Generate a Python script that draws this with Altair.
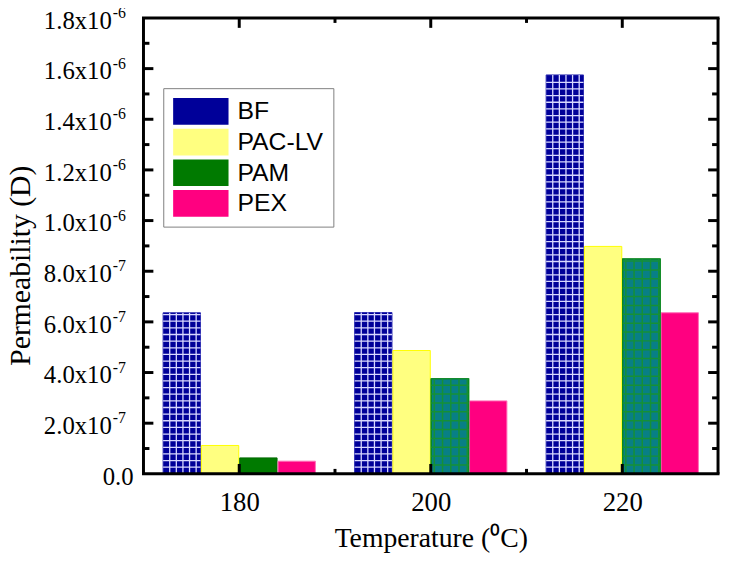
import altair as alt
import pandas as pd

# ---------------- data ----------------
temps = ["180", "200", "220"]
series = ["BF", "PAC-LV", "PAM", "PEX"]
bf = [6.36e-7, 6.37e-7, 1.575e-6]
pac_lv = [1.12e-7, 4.87e-7, 8.98e-7]
pam = [0.63e-7, 3.75e-7, 8.48e-7]
pex = [0.50e-7, 2.88e-7, 6.36e-7]

y_tick_values = [0, 2e-7, 4e-7, 6e-7, 8e-7, 1.0e-6, 1.2e-6, 1.4e-6, 1.6e-6, 1.8e-6]
y_tick_mantissa = ["0.0", "2.0", "4.0", "6.0", "8.0", "1.0", "1.2", "1.4", "1.6", "1.8"]
y_tick_exp = ["", "-7", "-7", "-7", "-7", "-6", "-6", "-6", "-6", "-6"]

fills = ["#000099", "#ffff80", "#007a00", "#ff0080"]
strokes = ["#2a2ab0", "#ffff00", "#006a00", "#ff6fb8"]

# ---------------- layout constants ----------------
W, H = 581, 461
STEP = 0.2
BAR_W = 0.195
GAP = (STEP - BAR_W) / 2

SERIF = "Liberation Serif"
SANS = "Liberation Sans"

rows = []
for gi, t in enumerate(temps):
    for si, (s, vals) in enumerate(zip(series, [bf, pac_lv, pam, pex])):
        rows.append({"temp": t, "series": s, "value": vals[gi], "gi": gi, "si": si})
df = pd.DataFrame(rows)

xs = alt.Scale(domain=[0, 3], nice=False, zero=False)
ys = alt.Scale(domain=[0, 1.8e-6], nice=False)

label_expr = "[" + ",".join(f"'{t}'" for t in temps) + "][floor(datum.value)]"
xaxis = alt.Axis(values=[i + 0.5 for i in range(len(temps))], labelExpr=label_expr,
                 ticks=False, domain=False, grid=False,
                 labelFont=SERIF, labelFontSize=27, labelColor="black", labelPadding=16,
                 title="Temperature (\u2070C)", titleFont=SERIF, titleFontSize=28,
                 titleFontWeight="normal", titleColor="black", titleY=51)
yaxis = alt.Axis(labels=False, ticks=False, domain=False, grid=False,
                 title="Permeability (D)", titleFont=SERIF, titleFontSize=30,
                 titleFontWeight="normal", titleColor="black", titleX=-109, titleY=250)

base = (alt.Chart(df)
        .transform_calculate(x0=f"datum.gi + 0.5 + (datum.si - 2) * {STEP} + {GAP}")
        .transform_calculate(x1=f"datum.x0 + {BAR_W}"))

legend = alt.Legend(title=None, orient="none", legendX=20, legendY=71,
                    symbolType="M-1,-1H3.148V1H-1Z", symbolSize=729,
                    symbolStrokeWidth=0, symbolOpacity=1,
                    labelFont=SANS, labelFontSize=25, labelColor="black",
                    labelOffset=38, labelLimit=300, rowPadding=4, padding=10,
                    strokeColor="#808080", fillColor="white")

bars = base.mark_rect(strokeWidth=1).encode(
    x=alt.X("x0:Q", scale=xs, axis=xaxis),
    x2="x1:Q",
    y=alt.Y("value:Q", scale=ys, axis=yaxis),
    y2=alt.datum(0),
    fill=alt.Fill("series:N", scale=alt.Scale(domain=series, range=fills), legend=legend),
    stroke=alt.Stroke("series:N", scale=alt.Scale(domain=series, range=strokes), legend=None),
)

# teal chequered PAM bars at 200 and 220
pam_teal = base.transform_filter("datum.si == 2 && datum.gi > 0").mark_rect(
    fill="#087f86", stroke="#0a8a20", strokeWidth=1.5).encode(
    x=alt.X("x0:Q", scale=xs, axis=xaxis), x2="x1:Q",
    y=alt.Y("value:Q", scale=ys, axis=yaxis), y2=alt.datum(0))

# ---- texture lines (decoration) ----
bf_v, bf_h, pam_v, pam_h = [], [], [], []
for gi in range(len(temps)):
    x0 = gi + 0.5 - 2 * STEP + GAP
    for k in range(1, 6):
        bf_v.append({"xv": x0 + k * 0.0345, "top": bf[gi]})
    k = 1
    while k * 0.262e-7 < bf[gi] - 0.05e-7:
        bf_h.append({"xa": x0, "xb": x0 + BAR_W, "yv": k * 0.262e-7})
        k += 1
    if gi > 0:
        px0 = gi + 0.5 + GAP
        for k in range(0, 5):
            pam_v.append({"xv": px0 + 0.016 + k * 0.043, "top": pam[gi]})
        k = 1
        while k * 0.35e-7 < pam[gi] - 0.05e-7:
            pam_h.append({"xa": px0, "xb": px0 + BAR_W, "yv": k * 0.35e-7})
            k += 1


def vlines(data, color, width):
    return alt.Chart(pd.DataFrame(data)).mark_rule(color=color, strokeWidth=width).encode(
        x=alt.X("xv:Q", scale=xs, axis=xaxis),
        y=alt.Y("top:Q", scale=ys, axis=yaxis), y2=alt.datum(0))


def hlines(data, color, width):
    return alt.Chart(pd.DataFrame(data)).mark_rule(color=color, strokeWidth=width).encode(
        x=alt.X("xa:Q", scale=xs, axis=xaxis), x2="xb:Q",
        y=alt.Y("yv:Q", scale=ys, axis=yaxis))


tex = [vlines(bf_v, "#d8d8ff", 1.3), hlines(bf_h, "#d8d8ff", 1.3),
       vlines(pam_v, "#169036", 1.5), hlines(pam_h, "#169036", 1.5)]

# ---- inward ticks ----
y_major = pd.DataFrame({"v": y_tick_values[1:-1]})
y_minor = pd.DataFrame({"v": [(a + b) / 2 for a, b in zip(y_tick_values[:-1], y_tick_values[1:])]})
x_major = pd.DataFrame({"v": [i + 0.5 for i in range(len(temps))]})
x_minor = pd.DataFrame({"v": [float(i) for i in range(1, len(temps))]})

tick_style = dict(color="black", strokeWidth=3)


def yticks(d, length):
    left = alt.Chart(d).mark_rule(**tick_style).encode(
        y=alt.Y("v:Q", scale=ys, axis=yaxis), x=alt.value(0), x2=alt.value(length))
    right = alt.Chart(d).mark_rule(**tick_style).encode(
        y=alt.Y("v:Q", scale=ys, axis=yaxis), x=alt.value(W), x2=alt.value(W - length))
    return [left, right]


def xticks(d, length):
    bottom = alt.Chart(d).mark_rule(**tick_style).encode(
        x=alt.X("v:Q", scale=xs, axis=xaxis), y=alt.value(H), y2=alt.value(H - length))
    top = alt.Chart(d).mark_rule(**tick_style).encode(
        x=alt.X("v:Q", scale=xs, axis=xaxis), y=alt.value(0), y2=alt.value(length))
    return [bottom, top]


ticks = yticks(y_major, 10) + yticks(y_minor, 6) + xticks(x_major, 10) + xticks(x_minor, 5)

# frame drawn as rules so it sits above the bars
one = y_major.head(1)
frame = [
    alt.Chart(one).mark_rule(color="black", strokeWidth=3).encode(
        x=alt.value(-1.5), x2=alt.value(W + 1.5), y=alt.value(0)),
    alt.Chart(one).mark_rule(color="black", strokeWidth=3).encode(
        x=alt.value(-1.5), x2=alt.value(W + 1.5), y=alt.value(H)),
    alt.Chart(one).mark_rule(color="black", strokeWidth=3).encode(
        x=alt.value(0), y=alt.value(0), y2=alt.value(H)),
    alt.Chart(one).mark_rule(color="black", strokeWidth=3).encode(
        x=alt.value(W), y=alt.value(0), y2=alt.value(H)),
]

# ---- y tick labels with superscript exponents ----
lab = pd.DataFrame({"v": y_tick_values, "m": y_tick_mantissa, "e": y_tick_exp})
lab_base = alt.Chart(lab).transform_filter("datum.v > 0").transform_calculate(
    t="datum.m + 'x10'").mark_text(
    font=SERIF, fontSize=25, align="right", baseline="middle", dy=3, color="black").encode(
    y=alt.Y("v:Q", scale=ys, axis=yaxis), x=alt.value(-32), text="t:N")
lab_exp = alt.Chart(lab).transform_filter("datum.v > 0").mark_text(
    font=SERIF, fontSize=16, align="left", baseline="middle", dy=-5, dx=1, color="black").encode(
    y=alt.Y("v:Q", scale=ys, axis=yaxis), x=alt.value(-32), text="e:N")
lab_zero = alt.Chart(lab).transform_filter("datum.v == 0").mark_text(
    font=SERIF, fontSize=25, align="right", baseline="middle", dy=3, color="black").encode(
    y=alt.Y("v:Q", scale=ys, axis=yaxis), x=alt.value(-10), text="m:N")

chart = alt.layer(bars, pam_teal, *tex, *ticks, *frame, lab_base, lab_exp, lab_zero).properties(
    width=W, height=H,
    padding={"left": 137, "top": 7, "right": 3, "bottom": 80},
    autosize=alt.AutoSizeParams(type="none"),
    background="white",
).configure_view(stroke=None)

chart.save("out.html", embed_options={"renderer": "svg", "actions": False})
